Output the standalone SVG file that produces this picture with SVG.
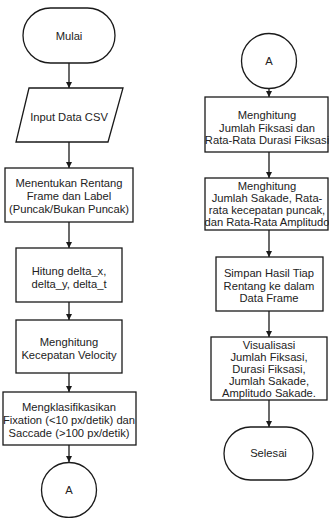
<svg xmlns="http://www.w3.org/2000/svg" width="329" height="518" viewBox="0 0 329 518">
<style>
.s{fill:#fff;stroke:#1a1a1a;stroke-width:1.3}
.t{font-family:"Liberation Sans",Arial,sans-serif;font-size:11.2px;fill:#222;text-anchor:middle}
.c{stroke:#1a1a1a;stroke-width:1.3;fill:none;marker-end:url(#ah)}
</style>
<defs>
<marker id="ah" viewBox="0 0 10 10" refX="10" refY="5" markerWidth="6" markerHeight="6" markerUnits="userSpaceOnUse" orient="auto">
<path d="M0,0 L10,5 L0,10 Z" fill="#1a1a1a"/>
</marker>
</defs>
<rect width="329" height="518" fill="#fff"/>
<g id="connectors">
<line class="c" x1="69" y1="63" x2="69" y2="88"/>
<line class="c" x1="69" y1="142" x2="69" y2="168"/>
<line class="c" x1="69" y1="222" x2="69" y2="248"/>
<line class="c" x1="69" y1="302" x2="69" y2="320"/>
<line class="c" x1="69" y1="373" x2="69" y2="392"/>
<line class="c" x1="69" y1="445" x2="69" y2="462"/>
<line class="c" x1="269" y1="88" x2="269" y2="97"/>
<line class="c" x1="269" y1="152" x2="269" y2="178"/>
<line class="c" x1="269" y1="230" x2="269" y2="257"/>
<line class="c" x1="269" y1="311" x2="269" y2="337"/>
<line class="c" x1="269" y1="400" x2="269" y2="427"/>
</g>
<g id="mulai">
<rect class="s" x="23" y="8" width="92" height="55" rx="27.5"/>
<text class="t" x="69" y="40">Mulai</text>
</g>
<g id="input">
<polygon class="s" points="29,88 123,88 108,142 16,142"/>
<text class="t" x="69" y="121">Input Data CSV</text>
</g>
<g id="rentang">
<rect class="s" x="5" y="168" width="128" height="54"/>
<text class="t" x="69" y="187">Menentukan Rentang</text>
<text class="t" x="69" y="200">Frame dan Label</text>
<text class="t" x="69" y="213">(Puncak/Bukan Puncak)</text>
</g>
<g id="hitung">
<rect class="s" x="16" y="248" width="106" height="54"/>
<text class="t" x="69" y="275">Hitung delta_x,</text>
<text class="t" x="69" y="288">delta_y, delta_t</text>
</g>
<g id="velocity">
<rect class="s" x="16" y="320" width="106" height="53"/>
<text class="t" x="69" y="346">Menghitung</text>
<text class="t" x="69" y="359">Kecepatan Velocity</text>
</g>
<g id="klasifikasi">
<rect class="s" x="3" y="392" width="133" height="53"/>
<text class="t" x="69" y="411">Mengklasifikasikan</text>
<text class="t" x="69" y="424">Fixation (&lt;10 px/detik) dan</text>
<text class="t" x="69" y="437">Saccade (&gt;100 px/detik)</text>
</g>
<g id="a-left">
<circle class="s" cx="69" cy="490" r="27.5"/>
<text class="t" x="69" y="494">A</text>
</g>
<g id="a-right">
<circle class="s" cx="269" cy="61" r="27.5"/>
<text class="t" x="269" y="65">A</text>
</g>
<g id="fiksasi">
<rect class="s" x="205" y="97" width="123" height="55"/>
<text class="t" x="267" y="119">Menghitung</text>
<text class="t" x="267" y="132">Jumlah Fiksasi dan</text>
<text class="t" x="267" y="144">Rata-Rata Durasi Fiksasi</text>
</g>
<g id="sakade">
<rect class="s" x="205" y="178" width="123" height="52"/>
<text class="t" x="267" y="190">Menghitung</text>
<text class="t" x="267" y="202">Jumlah Sakade, Rata-</text>
<text class="t" x="267" y="214">rata kecepatan puncak,</text>
<text class="t" x="267" y="226">dan Rata-Rata Amplitudo</text>
</g>
<g id="simpan">
<rect class="s" x="216" y="257" width="107" height="54"/>
<text class="t" x="269" y="277">Simpan Hasil Tiap</text>
<text class="t" x="269" y="289.5">Rentang ke dalam</text>
<text class="t" x="269" y="302">Data Frame</text>
</g>
<g id="visualisasi">
<rect class="s" x="211" y="337" width="116" height="63"/>
<text class="t" x="269" y="349">Visualisasi</text>
<text class="t" x="269" y="361">Jumlah Fiksasi,</text>
<text class="t" x="269" y="372.5">Durasi Fiksasi,</text>
<text class="t" x="269" y="384.5">Jumlah Sakade,</text>
<text class="t" x="269" y="397">Amplitudo Sakade.</text>
</g>
<g id="selesai">
<rect class="s" x="224" y="427" width="89" height="53" rx="26.5"/>
<text class="t" x="268.5" y="457">Selesai</text>
</g>
</svg>
